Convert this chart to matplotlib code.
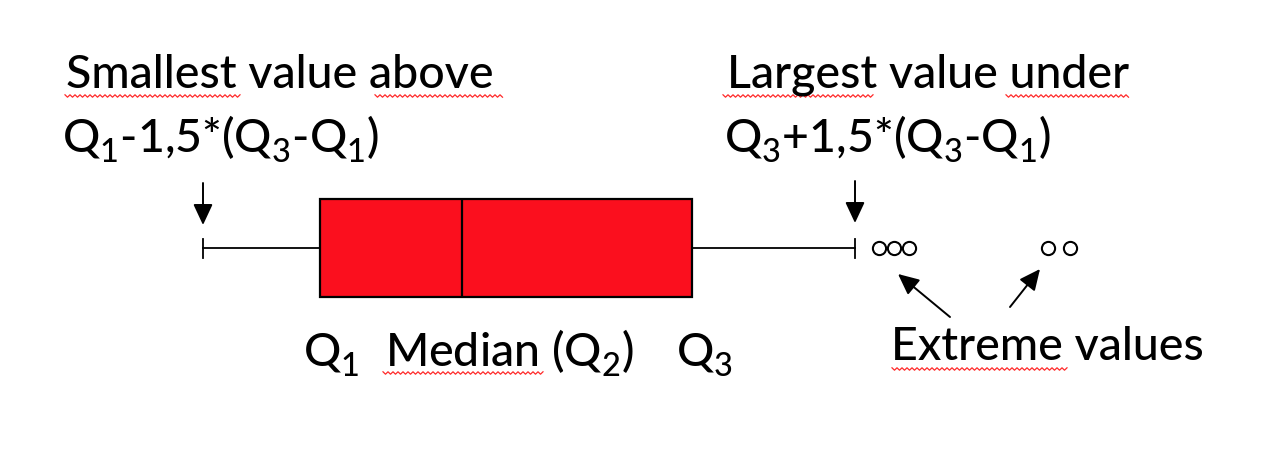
import matplotlib
import matplotlib._mathtext as mathtext_internal
import matplotlib.pyplot as plt
import numpy as np

matplotlib.use("Agg")

# Box plot summary (in picture units along the axis)
whisker_lo = 203
q1 = 320
median = 462
q3 = 692
whisker_hi = 855
extremes = [879, 894, 909, 1048, 1070]

# Labels
label_lo = ["Smallest value above", r"Q$_1$-1,5*(Q$_3$-Q$_1$)"]
label_hi = ["Largest value under", r"Q$_3$+1,5*(Q$_3$-Q$_1$)"]
label_q1 = r"Q$_1$"
label_med = r"Median (Q$_2$)"
label_q3 = r"Q$_3$"
label_ext = "Extreme values"

FONT = "Lato"
plt.rcParams["font.family"] = [FONT, "DejaVu Sans"]
plt.rcParams["font.weight"] = "medium"
plt.rcParams["mathtext.fontset"] = "custom"
plt.rcParams["mathtext.rm"] = FONT + ":medium"
plt.rcParams["mathtext.it"] = FONT + ":medium"
plt.rcParams["mathtext.default"] = "rm"
# drop the subscripts a bit lower, like the PowerPoint original
mathtext_internal.FontConstantsBase.sub1 = 0.45

fig = plt.figure(figsize=(12.84, 4.66), dpi=100)
ax = fig.add_axes([0, 0, 1, 1])
ax.set_xlim(0, 1284)
ax.set_ylim(466, 0)
ax.axis("off")

box_y = 248
stats = [dict(whislo=whisker_lo, q1=q1, med=median, q3=q3, whishi=whisker_hi, fliers=extremes)]
ax.bxp(stats, positions=[box_y], widths=98, capwidths=19, orientation="horizontal",
       patch_artist=True, manage_ticks=False,
       boxprops=dict(facecolor="#fb0f1e", edgecolor="black", linewidth=1.6),
       medianprops=dict(color="black", linewidth=1.6),
       whiskerprops=dict(color="black", linewidth=1.3),
       capprops=dict(color="black", linewidth=1.3),
       flierprops=dict(marker="o", markersize=9.5, markerfacecolor="white",
                       markeredgecolor="black", markeredgewidth=1.5))

fs = 33.5
ax.text(66, 88, label_lo[0], fontsize=fs, ha="left", va="baseline")
ax.text(62, 152, label_lo[1], fontsize=fs, ha="left", va="baseline")
ax.text(727, 88, label_hi[0], fontsize=fs, ha="left", va="baseline")
ax.text(724, 152, label_hi[1], fontsize=fs, ha="left", va="baseline")
ax.text(303, 366, label_q1, fontsize=fs, ha="left", va="baseline")
ax.text(385, 366, label_med, fontsize=fs, ha="left", va="baseline")
ax.text(676, 366, label_q3, fontsize=fs, ha="left", va="baseline")
ax.text(891, 360, label_ext, fontsize=fs, ha="left", va="baseline")

arrow = dict(arrowstyle="-|>,head_length=0.75,head_width=0.35", color="black",
             lw=1.4, mutation_scale=17, shrinkA=0, shrinkB=0)
ax.annotate("", xy=(whisker_lo, 225), xytext=(whisker_lo, 183), arrowprops=arrow)
ax.annotate("", xy=(whisker_hi, 223), xytext=(whisker_hi, 181), arrowprops=arrow)
ax.annotate("", xy=(extremes[0] + 19, 274), xytext=(950, 317), arrowprops=arrow)
ax.annotate("", xy=(extremes[3] - 8, 269), xytext=(1010, 307), arrowprops=arrow)

# spell-check squiggles
squiggles = [(65, 242, 96), (375, 503, 96), (723, 875, 96), (1006, 1130, 96),
             (383, 543, 373), (892, 1068, 369)]
for x0, x1, y in squiggles:
    xs = np.arange(x0, x1 + 0.1, 2.5)
    ys = y + np.where(np.arange(len(xs)) % 2 == 0, -1.2, 1.2)
    ax.plot(xs, ys, color="#ff2a2a", lw=0.9)

fig.savefig("out.png", dpi=100)
